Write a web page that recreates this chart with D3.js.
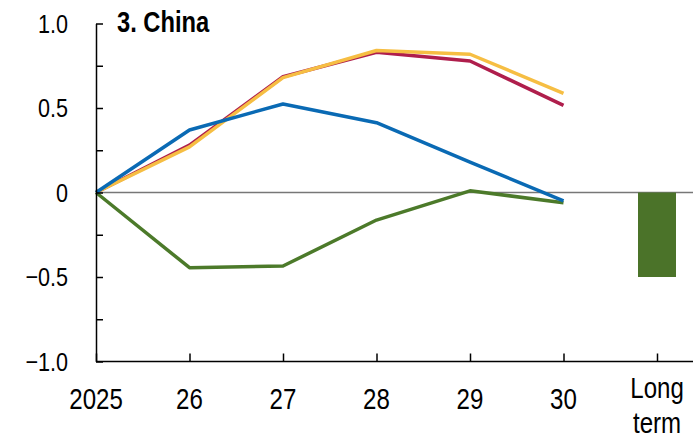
<!DOCTYPE html>
<html><head><meta charset="utf-8">
<script src="https://cdn.jsdelivr.net/npm/d3@7"></script>
<style>
body{margin:0;background:#fff;}
text{font-family:"Liberation Sans",Arial,sans-serif;}
</style></head>
<body><svg id="c" width="693" height="436"></svg>
<script>
const categories = ["2025","26","27","28","29","30","Long term"];
const lineCats = ["2025","26","27","28","29","30"];
const seriesBlue   = [0, 0.37, 0.524, 0.413, 0.18, -0.05];
const seriesRed    = [0, 0.28, 0.685, 0.83, 0.778, 0.516];
const seriesYellow = [0, 0.27, 0.68, 0.84, 0.818, 0.587];
const seriesGreen  = [0, -0.445, -0.435, -0.163, 0.01, -0.06];
const barCats = ["Long term"];
const barValues = [-0.5];
const yTicks = [-1,-0.75,-0.5,-0.25,0,0.25,0.5,0.75,1];
const yLabelTicks = [-1,-0.5,0,0.5,1];
const yLabels = ["\u22121.0","\u22120.5","0","0.5","1.0"];
const title = "3. China";

const svg = d3.select("#c");
const x = d3.scalePoint().domain(categories).range([96, 657]);
const y = d3.scaleLinear().domain([-1,1]).range([361.5, 23.5]);
const SX = 0.83; // narrow-font emulation

// zero line
svg.append("line").attr("x1",96).attr("x2",693).attr("y1",y(0)).attr("y2",y(0))
  .attr("stroke","#777").attr("stroke-width",1.5);

// bar
const bw = 38;
svg.selectAll("rect.bar").data(barValues).enter().append("rect")
  .attr("x",(d,i)=>x(barCats[i])-bw/2).attr("width",bw)
  .attr("y",d=>y(Math.max(0,d))).attr("height",d=>Math.abs(y(d)-y(0)))
  .attr("fill","#4B7329");

// lines
const line = d3.line().x((d,i)=>x(lineCats[i])).y(d=>y(d));
const series = [
  {v:seriesGreen,c:"#4C7A2A"},
  {v:seriesRed,c:"#AF1E4C"},
  {v:seriesYellow,c:"#F6BE43"},
  {v:seriesBlue,c:"#0A6AB4"}
];
series.forEach(s=>{
  svg.append("path").attr("d",line(s.v)).attr("fill","none")
    .attr("stroke",s.c).attr("stroke-width",3.5).attr("stroke-linejoin","round");
});

// y axis
const yAxis = d3.axisLeft(y).tickValues(yTicks).tickSize(-7).tickSizeOuter(0).tickFormat("");
const gy = svg.append("g").attr("transform","translate(96,0)").call(yAxis);
gy.select(".domain").attr("stroke","#000").attr("stroke-width",1.5);
gy.selectAll(".tick line").attr("stroke","#000").attr("stroke-width",1.5);
yLabelTicks.forEach((v,i)=>{
  svg.append("text").attr("transform",`translate(68,${y(v)+9.3}) scale(${SX},1)`)
    .attr("text-anchor","end").attr("font-size",26).attr("fill","#000").text(yLabels[i]);
});

// x axis
const xAxis = d3.axisBottom(x).tickSize(-8).tickSizeOuter(0).tickFormat("");
const gx = svg.append("g").attr("transform",`translate(0,${y(-1)})`).call(xAxis);
gx.select(".domain").attr("d",`M96,0H693`).attr("stroke","#000").attr("stroke-width",1.5);
gx.selectAll(".tick line").attr("stroke","#000").attr("stroke-width",1.5);

categories.forEach(c=>{
  const parts = c==="Long term" ? ["Long","term"] : [c];
  const base = parts.length===1 ? 409 : 398;
  parts.forEach((p,i)=>{
    svg.append("text").attr("transform",`translate(${x(c)},${base+35*i}) scale(${SX},1)`)
      .attr("text-anchor","middle").attr("font-size",29).attr("fill","#000").text(p);
  });
});

svg.append("text").attr("transform",`translate(117,31.5) scale(0.79,1)`)
  .attr("font-size",30).attr("font-weight","bold").attr("fill","#000").text(title);
</script></body></html>
